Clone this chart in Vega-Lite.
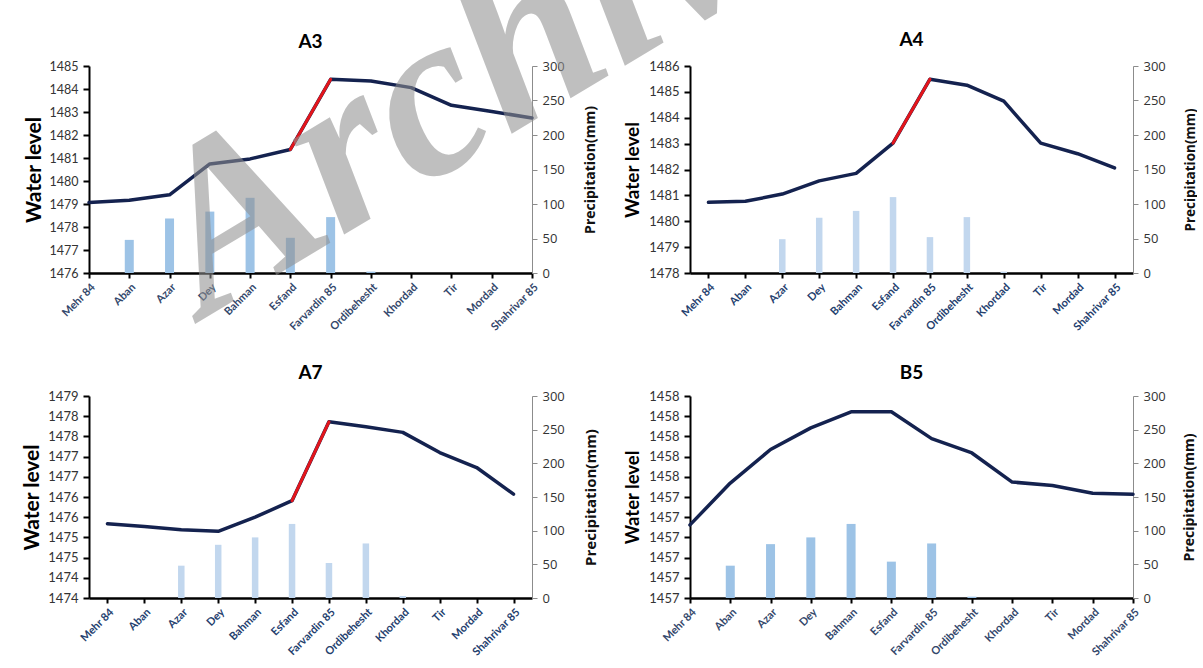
{
  "$schema": "https://vega.github.io/schema/vega-lite/v6.json",
  "background": "#ffffff",
  "padding": {"left": 21, "top": -234, "right": 0, "bottom": 0},
  "bounds": "flush",
  "columns": 2,
  "spacing": {"column": 158, "row": 123},
  "datasets": {
    "A3": [
      {"month": "Mehr 84", "level": 1479.06, "precip": 0},
      {"month": "Aban", "level": 1479.16, "precip": 48},
      {"month": "Azar", "level": 1479.40, "precip": 79},
      {"month": "Dey", "level": 1480.74, "precip": 89},
      {"month": "Bahman", "level": 1480.96, "precip": 109},
      {"month": "Esfand", "level": 1481.37, "precip": 51},
      {"month": "Farvardin 85", "level": 1484.42, "precip": 81},
      {"month": "Ordibehesht", "level": 1484.35, "precip": 2},
      {"month": "Khordad", "level": 1484.06, "precip": 0},
      {"month": "Tir", "level": 1483.29, "precip": 0},
      {"month": "Mordad", "level": 1483.02, "precip": 0},
      {"month": "Shahrivar 85", "level": 1482.74, "precip": 0}
    ],
    "A4": [
      {"month": "Mehr 84", "level": 1480.73, "precip": 0},
      {"month": "Aban", "level": 1480.77, "precip": 0},
      {"month": "Azar", "level": 1481.05, "precip": 49},
      {"month": "Dey", "level": 1481.56, "precip": 80},
      {"month": "Bahman", "level": 1481.85, "precip": 90},
      {"month": "Esfand", "level": 1483.02, "precip": 110},
      {"month": "Farvardin 85", "level": 1485.49, "precip": 52},
      {"month": "Ordibehesht", "level": 1485.26, "precip": 81},
      {"month": "Khordad", "level": 1484.64, "precip": 2},
      {"month": "Tir", "level": 1483.02, "precip": 0},
      {"month": "Mordad", "level": 1482.61, "precip": 0},
      {"month": "Shahrivar 85", "level": 1482.06, "precip": 0}
    ],
    "A7": [
      {"month": "Mehr 84", "level": 1475.84, "precip": 0},
      {"month": "Aban", "level": 1475.77, "precip": 0},
      {"month": "Azar", "level": 1475.69, "precip": 48},
      {"month": "Dey", "level": 1475.65, "precip": 79},
      {"month": "Bahman", "level": 1476.00, "precip": 90},
      {"month": "Esfand", "level": 1476.41, "precip": 110},
      {"month": "Farvardin 85", "level": 1478.36, "precip": 52},
      {"month": "Ordibehesht", "level": 1478.24, "precip": 81},
      {"month": "Khordad", "level": 1478.10, "precip": 3},
      {"month": "Tir", "level": 1477.60, "precip": 0},
      {"month": "Mordad", "level": 1477.23, "precip": 0},
      {"month": "Shahrivar 85", "level": 1476.57, "precip": 0}
    ],
    "B5": [
      {"month": "Mehr 84", "level": 1457.262, "precip": 0},
      {"month": "Aban", "level": 1457.469, "precip": 48},
      {"month": "Azar", "level": 1457.635, "precip": 80},
      {"month": "Dey", "level": 1457.742, "precip": 90},
      {"month": "Bahman", "level": 1457.822, "precip": 110},
      {"month": "Esfand", "level": 1457.822, "precip": 54},
      {"month": "Farvardin 85", "level": 1457.689, "precip": 81},
      {"month": "Ordibehesht", "level": 1457.618, "precip": 2},
      {"month": "Khordad", "level": 1457.474, "precip": 0},
      {"month": "Tir", "level": 1457.457, "precip": 0},
      {"month": "Mordad", "level": 1457.419, "precip": 0},
      {"month": "Shahrivar 85", "level": 1457.414, "precip": 0}
    ]
  },
  "concat": [
    {
      "title": {"text": "A3", "offset": 7, "dy": 292},
      "width": 443, "height": 207,
      "data": {"name": "A3"},
      "layer": [
        {
          "mark": {"type": "bar", "size": 9, "color": "#9dc3e6"},
          "encoding": {
            "x": {"field": "month", "type": "ordinal", "sort": null,
              "scale": {"type": "point", "padding": 0, "domain": ["Mehr 84","Aban","Azar","Dey","Bahman","Esfand","Farvardin 85","Ordibehesht","Khordad","Tir","Mordad","Shahrivar 85"]},
              "axis": {"title": null, "labelAngle": -45, "labelFont": "Lato", "labelFontSize": 11, "labelFontWeight": "bold", "labelColor": "#33476b", "labelPadding": 3, "labelOverlap": false, "labelBound": false, "domainColor": "#000000", "domainWidth": 2.5, "tickColor": "#000000", "tickWidth": 2, "tickSize": 5}},
            "y": {"field": "precip", "type": "quantitative",
              "scale": {"domain": [0, 300], "nice": false},
              "axis": {"orient": "right", "title": "Precipitation(mm)", "titleAngle": -90, "titleFont": "Open Sans", "titleFontSize": 14, "titleFontWeight": "bold", "titleColor": "#111111", "titlePadding": 33, "labelFont": "Open Sans", "labelFontSize": 13, "labelColor": "#333333", "labelPadding": 5, "domainColor": "#8c8c8c", "domainWidth": 1, "tickColor": "#8c8c8c", "tickSize": 5, "values": [0, 50, 100, 150, 200, 250, 300], "labelOverlap": false}}
          }
        },
        {
          "layer": [
            {
              "mark": {"type": "line", "color": "#14224f", "strokeWidth": 3.5, "strokeJoin": "round", "strokeCap": "round"},
              "encoding": {
                "x": {"field": "month", "type": "ordinal", "sort": null},
                "y": {"field": "level", "type": "quantitative",
                  "scale": {"domain": [1476, 1485], "zero": false, "nice": false},
                  "axis": {"orient": "left", "title": "Water level", "titleFont": "Lato", "titleFontSize": 21, "titleFontWeight": "bold", "titleColor": "#000000", "titlePadding": 5, "labelFont": "Lato", "labelFontSize": 12.5, "labelColor": "#333333", "labelPadding": 5, "domainColor": "#000000", "domainWidth": 2, "tickColor": "#000000", "tickWidth": 2, "tickSize": 6, "values": [1476,1477,1478,1479,1480,1481,1482,1483,1484,1485], "format": "d", "labelOverlap": false}}
              }
            },
            {
              "transform": [{"filter": {"field": "month", "oneOf": ["Esfand", "Farvardin 85"]}}],
              "mark": {"type": "line", "color": "#e3151b", "strokeWidth": 3, "strokeCap": "round"},
              "encoding": {
                "x": {"field": "month", "type": "ordinal", "sort": null},
                "y": {"field": "level", "type": "quantitative",
                  "axis": {"orient": "left", "title": "Water level", "titleFont": "Lato", "titleFontSize": 21, "titleFontWeight": "bold", "titleColor": "#000000", "titlePadding": 5, "labelFont": "Lato", "labelFontSize": 12.5, "labelColor": "#333333", "labelPadding": 5, "domainColor": "#000000", "domainWidth": 2, "tickColor": "#000000", "tickWidth": 2, "tickSize": 6, "values": [1476,1477,1478,1479,1480,1481,1482,1483,1484,1485], "format": "d", "labelOverlap": false}}
              }
            },
            {
              "data": {"values": [{"word": "Archive"}]},
              "mark": {"type": "text", "font": "Liberation Serif", "fontStyle": "italic", "fontWeight": "bold", "fontSize": 235, "angle": -31, "align": "left", "baseline": "alphabetic", "color": "#909090", "opacity": 0.57, "dx": -5},
              "encoding": {
                "x": {"datum": "Dey", "type": "ordinal"},
                "y": {"datum": 1474.17, "type": "quantitative",
                  "axis": {"orient": "left", "title": "Water level", "titleFont": "Lato", "titleFontSize": 21, "titleFontWeight": "bold", "titleColor": "#000000", "titlePadding": 5, "labelFont": "Lato", "labelFontSize": 12.5, "labelColor": "#333333", "labelPadding": 5, "domainColor": "#000000", "domainWidth": 2, "tickColor": "#000000", "tickWidth": 2, "tickSize": 6, "values": [1476,1477,1478,1479,1480,1481,1482,1483,1484,1485], "format": "d", "labelOverlap": false}},
                "text": {"field": "word"}
              }
            }
          ]
        }
      ],
      "resolve": {"scale": {"y": "independent"}}
    },
    {
      "title": {"text": "A4", "offset": 10},
      "width": 443, "height": 207,
      "data": {"name": "A4"},
      "layer": [
        {
          "mark": {"type": "bar", "size": 6.5, "color": "#c2d7ee"},
          "encoding": {
            "x": {"field": "month", "type": "ordinal", "sort": null,
              "scale": {"type": "point", "padding": 0.5, "domain": ["Mehr 84","Aban","Azar","Dey","Bahman","Esfand","Farvardin 85","Ordibehesht","Khordad","Tir","Mordad","Shahrivar 85"]},
              "axis": {"title": null, "labelAngle": -45, "labelFont": "Lato", "labelFontSize": 11, "labelFontWeight": "bold", "labelColor": "#24406e", "labelPadding": 3, "labelOverlap": false, "labelBound": false, "domainColor": "#000000", "domainWidth": 2.5, "tickColor": "#000000", "tickWidth": 2, "tickSize": 5}},
            "y": {"field": "precip", "type": "quantitative",
              "scale": {"domain": [0, 300], "nice": false},
              "axis": {"orient": "right", "title": "Precipitation(mm)", "titleAngle": -90, "titleFont": "Open Sans", "titleFontSize": 13.5, "titleFontWeight": "bold", "titleColor": "#111111", "titlePadding": 32, "labelFont": "Open Sans", "labelFontSize": 13, "labelColor": "#333333", "labelPadding": 5, "domainColor": "#8c8c8c", "domainWidth": 1, "tickColor": "#8c8c8c", "tickSize": 5, "values": [0, 50, 100, 150, 200, 250, 300], "labelOverlap": false}}
          }
        },
        {
          "layer": [
            {
              "mark": {"type": "line", "color": "#14224f", "strokeWidth": 3.5, "strokeJoin": "round", "strokeCap": "round"},
              "encoding": {
                "x": {"field": "month", "type": "ordinal", "sort": null},
                "y": {"field": "level", "type": "quantitative",
                  "scale": {"domain": [1478, 1486], "zero": false, "nice": false},
                  "axis": {"orient": "left", "title": "Water level", "titleFont": "Lato", "titleFontSize": 19, "titleFontWeight": "bold", "titleColor": "#000000", "titlePadding": 6, "labelFont": "Lato", "labelFontSize": 13, "labelColor": "#333333", "labelPadding": 5, "domainColor": "#000000", "domainWidth": 2, "tickColor": "#000000", "tickWidth": 2, "tickSize": 6, "values": [1478,1479,1480,1481,1482,1483,1484,1485,1486], "format": "d", "labelOverlap": false}}
              }
            },
            {
              "transform": [{"filter": {"field": "month", "oneOf": ["Esfand", "Farvardin 85"]}}],
              "mark": {"type": "line", "color": "#e3151b", "strokeWidth": 3, "strokeCap": "round"},
              "encoding": {
                "x": {"field": "month", "type": "ordinal", "sort": null},
                "y": {"field": "level", "type": "quantitative",
                  "axis": {"orient": "left", "title": "Water level", "titleFont": "Lato", "titleFontSize": 19, "titleFontWeight": "bold", "titleColor": "#000000", "titlePadding": 6, "labelFont": "Lato", "labelFontSize": 13, "labelColor": "#333333", "labelPadding": 5, "domainColor": "#000000", "domainWidth": 2, "tickColor": "#000000", "tickWidth": 2, "tickSize": 6, "values": [1478,1479,1480,1481,1482,1483,1484,1485,1486], "format": "d", "labelOverlap": false}}
              }
            }
          ]
        }
      ],
      "resolve": {"scale": {"y": "independent"}}
    },
    {
      "title": {"text": "A7", "offset": 7},
      "width": 443, "height": 202,
      "data": {"name": "A7"},
      "layer": [
        {
          "mark": {"type": "bar", "size": 6.5, "color": "#c2d7ee"},
          "encoding": {
            "x": {"field": "month", "type": "ordinal", "sort": null,
              "scale": {"type": "point", "padding": 0.5, "domain": ["Mehr 84","Aban","Azar","Dey","Bahman","Esfand","Farvardin 85","Ordibehesht","Khordad","Tir","Mordad","Shahrivar 85"]},
              "axis": {"title": null, "labelAngle": -45, "labelFont": "Lato", "labelFontSize": 11, "labelFontWeight": "bold", "labelColor": "#24406e", "labelPadding": 3, "labelOverlap": false, "labelBound": false, "domainColor": "#000000", "domainWidth": 2.5, "tickColor": "#000000", "tickWidth": 2, "tickSize": 5}},
            "y": {"field": "precip", "type": "quantitative",
              "scale": {"domain": [0, 300], "nice": false},
              "axis": {"orient": "right", "title": "Precipitation(mm)", "titleAngle": -90, "titleFont": "Open Sans", "titleFontSize": 15, "titleFontWeight": "bold", "titleColor": "#111111", "titlePadding": 34, "labelFont": "Open Sans", "labelFontSize": 13, "labelColor": "#333333", "labelPadding": 5, "domainColor": "#8c8c8c", "domainWidth": 1, "tickColor": "#8c8c8c", "tickSize": 5, "values": [0, 50, 100, 150, 200, 250, 300], "labelOverlap": false}}
          }
        },
        {
          "layer": [
            {
              "mark": {"type": "line", "color": "#14224f", "strokeWidth": 3.5, "strokeJoin": "round", "strokeCap": "round"},
              "encoding": {
                "x": {"field": "month", "type": "ordinal", "sort": null},
                "y": {"field": "level", "type": "quantitative",
                  "scale": {"domain": [1474, 1479], "zero": false, "nice": false},
                  "axis": {"orient": "left", "title": "Water level", "titleFont": "Lato", "titleFontSize": 21, "titleFontWeight": "bold", "titleColor": "#000000", "titlePadding": 5, "labelFont": "Lato", "labelFontSize": 13, "labelColor": "#333333", "labelPadding": 5, "domainColor": "#000000", "domainWidth": 2, "tickColor": "#000000", "tickWidth": 2, "tickSize": 6, "values": [1474,1474.5,1475,1475.5,1476,1476.5,1477,1477.5,1478,1478.5,1479], "labelExpr": "floor(datum.value)", "labelOverlap": false}}
              }
            },
            {
              "transform": [{"filter": {"field": "month", "oneOf": ["Esfand", "Farvardin 85"]}}],
              "mark": {"type": "line", "color": "#e3151b", "strokeWidth": 3, "strokeCap": "round"},
              "encoding": {
                "x": {"field": "month", "type": "ordinal", "sort": null},
                "y": {"field": "level", "type": "quantitative",
                  "axis": {"orient": "left", "title": "Water level", "titleFont": "Lato", "titleFontSize": 21, "titleFontWeight": "bold", "titleColor": "#000000", "titlePadding": 5, "labelFont": "Lato", "labelFontSize": 13, "labelColor": "#333333", "labelPadding": 5, "domainColor": "#000000", "domainWidth": 2, "tickColor": "#000000", "tickWidth": 2, "tickSize": 6, "values": [1474,1474.5,1475,1475.5,1476,1476.5,1477,1477.5,1478,1478.5,1479], "labelExpr": "floor(datum.value)", "labelOverlap": false}}
              }
            }
          ]
        }
      ],
      "resolve": {"scale": {"y": "independent"}}
    },
    {
      "title": {"text": "B5", "offset": 7},
      "width": 443, "height": 202,
      "data": {"name": "B5"},
      "layer": [
        {
          "mark": {"type": "bar", "size": 9, "color": "#9dc3e6"},
          "encoding": {
            "x": {"field": "month", "type": "ordinal", "sort": null,
              "scale": {"type": "point", "padding": 0, "domain": ["Mehr 84","Aban","Azar","Dey","Bahman","Esfand","Farvardin 85","Ordibehesht","Khordad","Tir","Mordad","Shahrivar 85"]},
              "axis": {"title": null, "labelAngle": -45, "labelFont": "Lato", "labelFontSize": 11, "labelFontWeight": "bold", "labelColor": "#33476b", "labelPadding": 3, "labelOverlap": false, "labelBound": false, "domainColor": "#000000", "domainWidth": 2.5, "tickColor": "#000000", "tickWidth": 2, "tickSize": 5}},
            "y": {"field": "precip", "type": "quantitative",
              "scale": {"domain": [0, 300], "nice": false},
              "axis": {"orient": "right", "title": "Precipitation(mm)", "titleAngle": -90, "titleFont": "Open Sans", "titleFontSize": 14, "titleFontWeight": "bold", "titleColor": "#111111", "titlePadding": 31, "labelFont": "Open Sans", "labelFontSize": 13, "labelColor": "#333333", "labelPadding": 5, "domainColor": "#8c8c8c", "domainWidth": 1, "tickColor": "#8c8c8c", "tickSize": 5, "values": [0, 50, 100, 150, 200, 250, 300], "labelOverlap": false}}
          }
        },
        {
          "layer": [
            {
              "mark": {"type": "line", "color": "#14224f", "strokeWidth": 3.5, "strokeJoin": "round", "strokeCap": "round"},
              "encoding": {
                "x": {"field": "month", "type": "ordinal", "sort": null},
                "y": {"field": "level", "type": "quantitative",
                  "scale": {"domain": [1456.9, 1457.9], "zero": false, "nice": false},
                  "axis": {"orient": "left", "title": "Water level", "titleFont": "Lato", "titleFontSize": 18.5, "titleFontWeight": "bold", "titleColor": "#000000", "titlePadding": 6, "labelFont": "Lato", "labelFontSize": 13, "labelColor": "#333333", "labelPadding": 5, "domainColor": "#000000", "domainWidth": 2, "tickColor": "#000000", "tickWidth": 2, "tickSize": 6, "values": [1456.9,1457.0,1457.1,1457.2,1457.3,1457.4,1457.5,1457.6,1457.7,1457.8,1457.9], "labelExpr": "round(datum.value)", "labelOverlap": false}}
              }
            }
          ]
        }
      ],
      "resolve": {"scale": {"y": "independent"}}
    }
  ],
  "config": {
    "view": {"stroke": null},
    "axis": {"grid": false},
    "title": {"font": "Lato", "fontSize": 19, "fontWeight": "bold", "color": "#000000", "anchor": "middle"}
  }
}
